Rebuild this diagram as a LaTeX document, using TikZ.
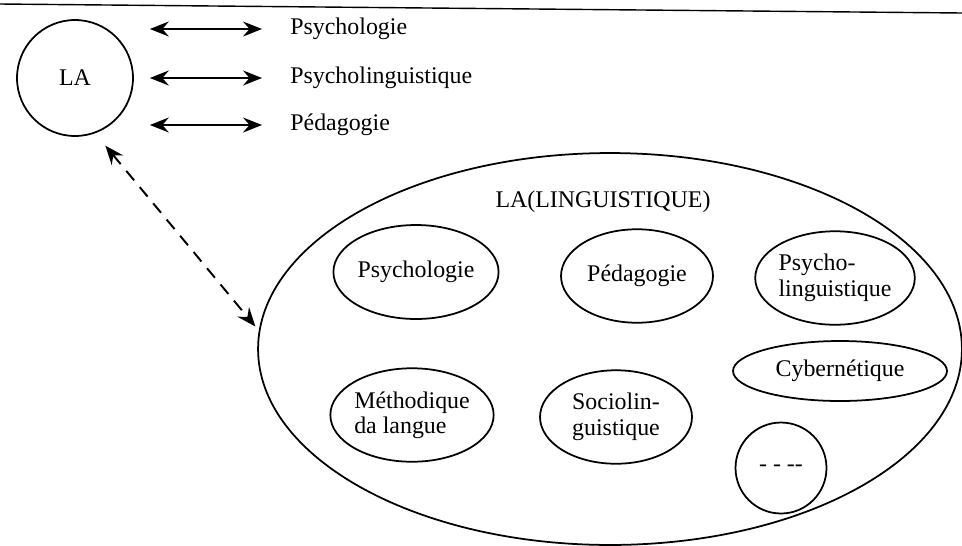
\documentclass[tikz,border=0pt]{standalone}
\usepackage{fontspec}
\setmainfont{Liberation Serif}
\usetikzlibrary{shapes.geometric, arrows.meta, positioning}

\begin{document}
\begin{tikzpicture}[x=0.02cm, y=-0.02cm,
    font=\fontsize{13.6}{14.5}\selectfont,
    >={Stealth[length=3.8mm, width=3mm, inset=1.3mm]},
    link/.style={<->, line width=1.1pt},
    field/.style={ellipse, draw, line width=1pt, inner sep=0pt,
        minimum width=3.04cm, minimum height=1.87cm},
    topic/.style={anchor=west, inner sep=0pt}]

    \useasboundingbox (0,0) rectangle (962,545);

    % Rule at the top
    \draw[line width=0.8pt] (0,4) -- (962,13);

    % LA and its neighbours
    \node[circle, draw, line width=1pt, minimum size=2.32cm] (la) at (75,78) {LA};
    \node[topic] (t1) at (290,29) {Psychologie};
    \node[topic] (t2) at (290,78) {Psycholinguistique};
    \node[topic] (t3) at (290,125) {Pédagogie};

    \foreach \t in {t1,t2,t3}
        \draw[link, shorten <=0.32cm, shorten >=0.56cm] (la.east |- \t.west) -- (\t.west);

    % LA(LINGUISTIQUE)
    \node[ellipse, draw, line width=1pt, minimum width=14.08cm, minimum height=7.84cm]
        (ling) at (610,349) {};
    \node (title) at (603,202) {LA(LINGUISTIQUE)};

    \node[field, minimum width=2.96cm, minimum height=1.88cm] (psy) at (416,272) {Psychologie};
    \node[field] (ped) at (637,276) {Pédagogie};
    \node[field, align=left] (psyling) at (835,278) {Psycho-\\linguistique};
    \node[field, align=left] (meth) at (412,415) {Méthodique\\da langue};
    \node[field, align=left] (socio) at (616,417) {Sociolin-\\guistique};
    \node[field, minimum width=4.28cm, minimum height=1.2cm] (cyber) at (840,371) {Cybernétique};
    \node[circle, draw, line width=1pt, minimum size=1.82cm] (etc) at (781,468) {- - -{}-};

    % Link between the two
    \draw[link, dash pattern=on 7pt off 5pt, shorten <=0.32cm, shorten >=3pt]
        (la.-70) -- (ling.177);

\end{tikzpicture}
\end{document}
